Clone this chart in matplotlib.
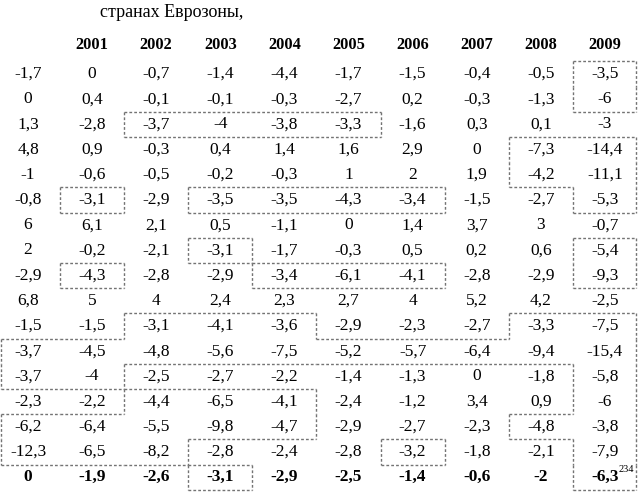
import matplotlib.pyplot as plt
from matplotlib.collections import LineCollection

plt.rcParams['font.family'] = ['Liberation Serif', 'DejaVu Serif']

title = 'странах Еврозоны,'
years = ['2001', '2002', '2003', '2004', '2005', '2006', '2007', '2008', '2009']

# first column has no year heading
values = [
    [-1.7, 0, -0.7, -1.4, -4.4, -1.7, -1.5, -0.4, -0.5, -3.5],
    [0, 0.4, -0.1, -0.1, -0.3, -2.7, 0.2, -0.3, -1.3, -6],
    [1.3, -2.8, -3.7, -4, -3.8, -3.3, -1.6, 0.3, 0.1, -3],
    [4.8, 0.9, -0.3, 0.4, 1.4, 1.6, 2.9, 0, -7.3, -14.4],
    [-1, -0.6, -0.5, -0.2, -0.3, 1, 2, 1.9, -4.2, -11.1],
    [-0.8, -3.1, -2.9, -3.5, -3.5, -4.3, -3.4, -1.5, -2.7, -5.3],
    [6, 6.1, 2.1, 0.5, -1.1, 0, 1.4, 3.7, 3, -0.7],
    [2, -0.2, -2.1, -3.1, -1.7, -0.3, 0.5, 0.2, 0.6, -5.4],
    [-2.9, -4.3, -2.8, -2.9, -3.4, -6.1, -4.1, -2.8, -2.9, -9.3],
    [6.8, 5, 4, 2.4, 2.3, 2.7, 4, 5.2, 4.2, -2.5],
    [-1.5, -1.5, -3.1, -4.1, -3.6, -2.9, -2.3, -2.7, -3.3, -7.5],
    [-3.7, -4.5, -4.8, -5.6, -7.5, -5.2, -5.7, -6.4, -9.4, -15.4],
    [-3.7, -4, -2.5, -2.7, -2.2, -1.4, -1.3, 0, -1.8, -5.8],
    [-2.3, -2.2, -4.4, -6.5, -4.1, -2.4, -1.2, 3.4, 0.9, -6],
    [-6.2, -6.4, -5.5, -9.8, -4.7, -2.9, -2.7, -2.3, -4.8, -3.8],
    [-12.3, -6.5, -8.2, -2.8, -2.4, -2.8, -3.2, -1.8, -2.1, -7.9],
]
total = [0, -1.9, -2.6, -3.1, -2.9, -2.5, -1.4, -0.6, -2, -6.3]
footnote = '234'

# cells framed by dotted boxes: row -> columns
boxed = {
    0: [9], 1: [9], 2: [2, 3, 4, 5], 3: [8, 9], 4: [8, 9],
    5: [1, 3, 4, 5, 6, 9], 7: [3, 9], 8: [1, 4, 5, 6, 9],
    10: [2, 3, 4, 8, 9], 11: list(range(10)), 12: [0, 1, 9],
    13: [2, 3, 4, 9], 14: [0, 1, 2, 3, 4, 8, 9], 15: [0, 1, 2, 6, 9],
    16: [3, 9],
}


def fmt(v):
    if v == int(v):
        return str(int(v))
    return ('%g' % v).replace('.', ',')


fig = plt.figure(figsize=(6.38, 5.0), dpi=100)
ax = fig.add_axes([0, 0, 1, 1])
ax.set_xlim(-0.437, 9.516)
ax.set_ylim(16.905, -2.937)
ax.axis('off')

ax.text(1.12, -2.46, title, fontsize=13, ha='left', va='center')

for j, y in enumerate(years):
    ax.text(j + 1, -1.15, y, fontsize=11.8, fontweight='bold',
            ha='center', va='center')

rows = values + [total]
for i, row in enumerate(rows):
    bold = i == len(rows) - 1
    for j, v in enumerate(row):
        ax.text(j, i, fmt(v), fontsize=12.5, ha='center', va='center',
                fontweight='bold' if bold else 'normal')

ax.text(9.22, len(rows) - 1.32, footnote, fontsize=7.5, ha='left', va='center')

cells = {(r, c) for r, cs in boxed.items() for c in cs}
segs = []
for r, c in cells:
    x0, x1 = max(c - 0.5, -0.42), min(c + 0.5, 9.48)
    y0, y1 = r - 0.5, r + 0.5
    if (r - 1, c) not in cells:
        segs.append([(x0, y0), (x1, y0)])
    if (r + 1, c) not in cells:
        segs.append([(x0, y1), (x1, y1)])
    if (r, c - 1) not in cells:
        segs.append([(x0, y0), (x0, y1)])
    if (r, c + 1) not in cells:
        segs.append([(x1, y0), (x1, y1)])
ax.add_collection(LineCollection(segs, colors='0.45', linewidths=1.0,
                                 linestyles=[(0, (2, 1.5))]))

fig.savefig('out.png', dpi=100)
